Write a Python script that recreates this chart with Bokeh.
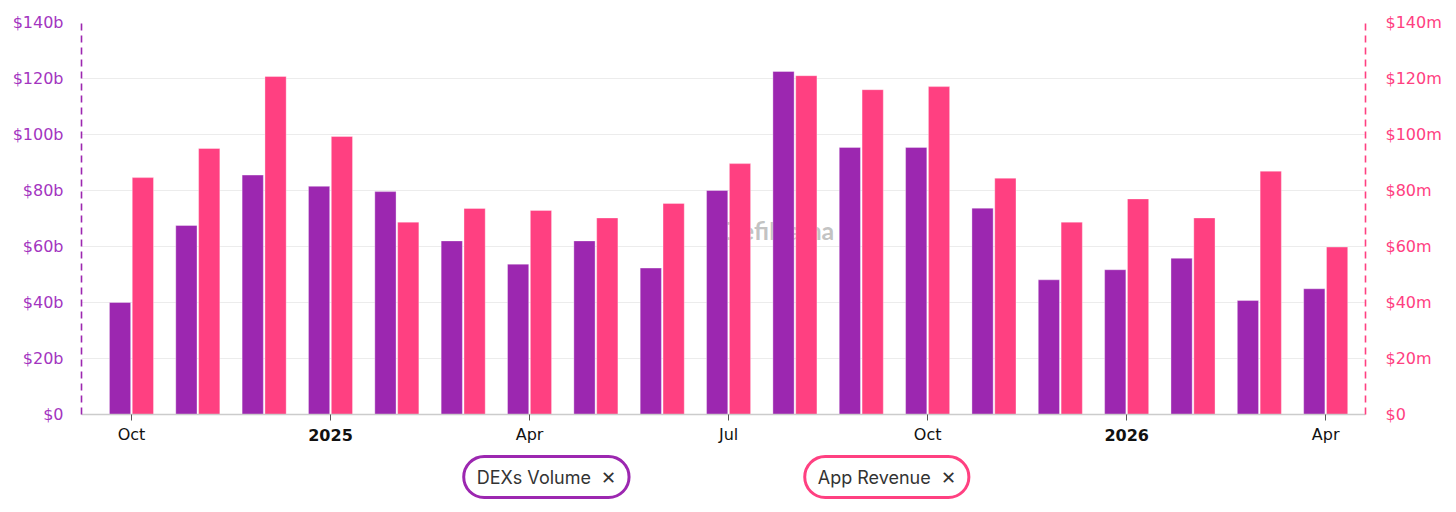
from bokeh.plotting import figure
from bokeh.models import Range1d, LinearAxis, FixedTicker, Label, ColumnDataSource
from bokeh.layouts import column
from bokeh.transform import dodge
from bokeh.embed import file_html
from bokeh.resources import INLINE

# ---- data ----
months = ["2024-10", "2024-11", "2024-12", "2025-01", "2025-02", "2025-03", "2025-04",
          "2025-05", "2025-06", "2025-07", "2025-08", "2025-09", "2025-10", "2025-11",
          "2025-12", "2026-01", "2026-02", "2026-03", "2026-04"]
dex_volume_b = [40, 67.5, 85.5, 81.5, 79.6, 62, 53.7, 62, 52.3, 80, 122.5, 95.4, 95.4,
                73.7, 48.1, 51.7, 55.8, 40.7, 44.9]
app_revenue_m = [84.6, 95, 120.7, 99.3, 68.7, 73.6, 72.9, 70.2, 75.4, 89.6, 121, 116,
                 117.1, 84.4, 68.7, 77, 70.2, 86.9, 59.8]
y_ticks = [0, 20, 40, 60, 80, 100, 120, 140]
x_tick_idx = [0, 3, 6, 9, 12, 15, 18]
x_tick_labels = ["Oct", "2025", "Apr", "Jul", "Oct", "2026", "Apr"]
bold_labels = ["2025", "2026"]
series_names = ["DEXs Volume", "App Revenue"]

PURPLE = "#9C27B0"
PINK = "#FF4081"
FONT = "DejaVu Sans"
LEG_FONT = "Inter"
W = 1448
BL, BR = 81, 83

src = ColumnDataSource(dict(x=list(range(len(months))), month=months,
                            dex=dex_volume_b, rev=app_revenue_m))

xr = Range1d(-0.753, 18.6)
p = figure(width=W, height=424, output_backend="svg", toolbar_location=None,
           x_range=xr, y_range=Range1d(0, 140),
           min_border_left=BL, min_border_right=BR, min_border_top=22, min_border_bottom=10)
p.extra_y_ranges = {"rev": Range1d(0, 140)}
p.background_fill_color = "#ffffff"
p.border_fill_color = "#ffffff"
p.outline_line_color = None

p.vbar(x=dodge("x", -0.172, range=p.x_range), top="dex", width=0.32, source=src,
       fill_color=PURPLE, line_color="#ffffff", line_alpha=0.35, line_width=1)
p.vbar(x=dodge("x", 0.172, range=p.x_range), top="rev", width=0.32, source=src,
       y_range_name="rev", fill_color=PINK, line_color="#ffffff", line_alpha=0.35, line_width=1)

# grid
p.xgrid.grid_line_color = None
p.ygrid.ticker = FixedTicker(ticks=y_ticks)
p.ygrid.grid_line_color = "#ececec"
p.ygrid.grid_line_width = 1.2

# left axis
ly = p.yaxis[0]
ly.ticker = FixedTicker(ticks=y_ticks)
ly.major_label_overrides = {t: ("$0" if t == 0 else f"${t}b") for t in y_ticks}
ly.axis_line_color = PURPLE
ly.axis_line_dash = "7 5"
ly.axis_line_width = 1.6
ly.major_tick_line_color = None
ly.minor_tick_line_color = None
ly.major_label_text_color = "#A335BF"
ly.major_label_text_font = FONT
ly.major_label_text_font_size = "16px"
ly.major_label_standoff = 12

# right axis
ry = LinearAxis(y_range_name="rev", ticker=FixedTicker(ticks=y_ticks))
ry.major_label_overrides = {t: ("$0" if t == 0 else f"${t}m") for t in y_ticks}
ry.axis_line_color = PINK
ry.axis_line_dash = "7 5"
ry.axis_line_width = 1.6
ry.major_tick_line_color = None
ry.minor_tick_line_color = None
ry.major_label_text_color = PINK
ry.major_label_text_font = FONT
ry.major_label_text_font_size = "16px"
ry.major_label_standoff = 14
p.add_layout(ry, "right")

# bottom axis (line + ticks; labels drawn in the strip below)
bx = p.xaxis[0]
bx.ticker = FixedTicker(ticks=x_tick_idx)
bx.major_label_overrides = {i: "" for i in x_tick_idx}
bx.major_label_text_font_size = "1px"
bx.major_label_standoff = 0
bx.axis_line_color = "#cccccc"
bx.axis_line_width = 1.5
bx.major_tick_line_color = "#555555"
bx.major_tick_out = 6
bx.major_tick_in = 0
bx.minor_tick_line_color = None

# watermark
p.add_layout(Label(x=8.9, y=66, text="DefiLlama", text_align="left", text_baseline="middle",
                   text_font="Lato", text_font_size="25px", text_font_style="bold",
                   text_color="#a8a8a8", text_alpha=0.7, level="underlay"))

# strip below: x tick labels and legend pills
q = figure(width=W, height=80, output_backend="svg", toolbar_location=None,
           x_range=xr, y_range=Range1d(0, 80),
           min_border_left=BL, min_border_right=BR, min_border_top=0, min_border_bottom=0)
q.axis.visible = False
q.grid.visible = False
q.outline_line_color = None
q.background_fill_color = "#ffffff"
q.border_fill_color = "#ffffff"

for i, l in zip(x_tick_idx, x_tick_labels):
    q.add_layout(Label(x=i, y=70, text=l, text_align="center", text_baseline="middle",
                       text_font=FONT, text_font_size="16px",
                       text_font_style="bold" if l in bold_labels else "normal",
                       text_color="#111111"))

for name, color, cx in zip(series_names, [PURPLE, PINK], [6.254, 11.385]):
    q.add_layout(Label(x=cx, y=27.5, text=name + "\u00a0\u00a0\u2715", text_align="center",
                       text_baseline="middle", text_font=LEG_FONT, text_font_size="18px",
                       text_color="#333333", border_line_color=color, border_line_width=3,
                       border_radius=21, background_fill_color="#ffffff",
                       padding=dict(left=13, right=13, top=10, bottom=10)))

open("out.html", "w").write(file_html(column(p, q, spacing=0), INLINE))
